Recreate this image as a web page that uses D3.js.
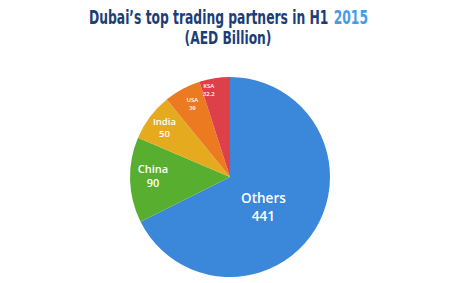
<!DOCTYPE html>
<html>
<head>
<meta charset="utf-8">
<script src="https://cdn.jsdelivr.net/npm/d3@7"></script>
<style>
  body { margin: 0; background: #fff; }
  .title { font-family: "DejaVu Sans Condensed", "DejaVu Sans", sans-serif; font-stretch: condensed; font-weight: bold; }
  .label text { font-family: "Open Sans", "DejaVu Sans", sans-serif; font-weight: 600; }
</style>
</head>
<body>
<div class="piechart"></div>
<script>
// data
const partners = ["Others", "China", "India", "USA", "KSA"];
const values = [441, 90, 50, 39, 32.2];
const colors = ["#3d8ce2", "#5bb531", "#eeb020", "#f47e22", "#e6424c"];

const width = 456, height = 283;
const cx = 230, cy = 177, radius = 100;

const svg = d3.select(".piechart").append("svg")
    .attr("width", width)
    .attr("height", height);

// title: drawn at natural size, then squeezed to the reference width
const tg = svg.append("g");
const t1 = tg.append("text")
    .attr("class", "title")
    .style("font-size", "19px")
    .attr("fill", "#1c3e78")
    .text("Dubai\u2019s top trading partners in H1");
const w1 = t1.node().getComputedTextLength();
const t2 = tg.append("text")
    .attr("class", "title")
    .attr("x", w1 + 7)
    .style("font-size", "19px")
    .attr("fill", "#4a9be6")
    .text("2015");
const titleW = w1 + 7 + t2.node().getComputedTextLength();
tg.attr("transform", "translate(89,24) scale(" + (279 / titleW) + ",1)");

const sg = svg.append("g");
const sub = sg.append("text")
    .attr("class", "title")
    .attr("text-anchor", "middle")
    .style("font-size", "18px")
    .attr("fill", "#1c3e78")
    .text("(AED Billion)");
sg.attr("transform", "translate(228,44) scale(" + (87 / sub.node().getComputedTextLength()) + ",1)");

const data = partners.map((p, i) => ({name: p, value: values[i], color: colors[i]}));

const pie = d3.pie()
  .sort(null)
  .value(d => d.value);

const arc = d3.arc()
  .innerRadius(0)
  .outerRadius(radius);

const defs = svg.append("defs");
data.forEach((d, i) => {
  const g = defs.append("radialGradient")
      .attr("id", "grad" + i)
      .attr("gradientUnits", "userSpaceOnUse")
      .attr("cx", cx).attr("cy", cy - 30).attr("r", radius * 1.3);
  g.append("stop").attr("offset", "0%").attr("stop-color", d3.color(d.color).brighter(0.35));
  g.append("stop").attr("offset", "100%").attr("stop-color", d3.color(d.color).darker(0.1));
});

const g = svg.append("g")
    .attr("transform", "translate(" + cx + "," + cy + ")");

const arcs = pie(data);

g.selectAll("path")
  .data(arcs)
  .enter().append("path")
    .attr("d", arc)
    .attr("fill", (d, i) => "url(#grad" + i + ")");

// labels: placement and sizes per slice
const labelR = [0.44, 0.77, 0.82, 0.83, 0.86];
const labelDx = [-4, 0, 0, 2, -8];
const labelDy = [7, -3, 0, 0, -2];
const fontSize = [13.5, 11, 9.5, 6, 6];
const lineGap = [18, 14, 12, 8, 8];

const labels = g.selectAll(".label")
  .data(arcs)
  .enter().append("g")
    .attr("class", "label")
    .attr("transform", (d, i) => {
      const a = (d.startAngle + d.endAngle) / 2;
      const r = radius * labelR[i];
      return "translate(" + (Math.sin(a) * r + labelDx[i]) + "," + (-Math.cos(a) * r + labelDy[i]) + ")";
    });

labels.append("text")
    .attr("text-anchor", "middle")
    .attr("y", (d, i) => -lineGap[i] / 2 + fontSize[i] * 0.36)
    .style("font-size", (d, i) => fontSize[i] + "px")
    .attr("fill", "#fff")
    .text(d => d.data.name);

labels.append("text")
    .attr("text-anchor", "middle")
    .attr("y", (d, i) => lineGap[i] / 2 + fontSize[i] * 0.36)
    .style("font-size", (d, i) => fontSize[i] + "px")
    .attr("fill", "#fff")
    .text(d => d.data.value);
</script>
</body>
</html>
